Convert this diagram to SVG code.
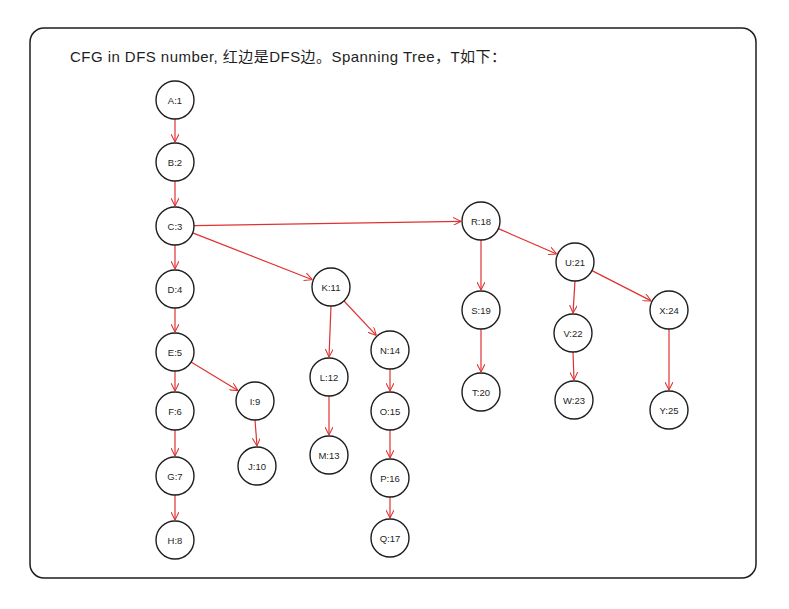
<svg xmlns="http://www.w3.org/2000/svg" width="789" height="609" viewBox="0 0 789 609">
<style>
.n circle{fill:#fff;stroke:#1e1e1e;stroke-width:1.4}
.n text{font-family:"Liberation Sans",sans-serif;font-size:9.5px;fill:#1e1e1e;text-anchor:middle;dominant-baseline:central}
#edges line{stroke:#e03131;stroke-width:1.2;marker-end:url(#ah)}
.t{font-family:"Liberation Sans","Noto Sans CJK SC",sans-serif;font-size:15px;fill:#1e1e1e}
</style>
<defs><marker id="ah" viewBox="0 0 10 10" refX="10" refY="5" markerWidth="8" markerHeight="8" orient="auto" markerUnits="userSpaceOnUse"><path d="M0,0 L10,5 L0,10" fill="none" stroke="#e03131" stroke-width="1.3"/></marker></defs>
<rect width="789" height="609" fill="#fff"/>
<rect x="30" y="28" width="726" height="550" rx="14" fill="none" stroke="#1e1e1e" stroke-width="1.5"/>
<text class="t" x="70" y="62" textLength="436" lengthAdjust="spacing">CFG in DFS number, 红边是DFS边。Spanning Tree，T如下：</text>
<g id="edges">
<line x1="175" y1="119" x2="175" y2="142"/>
<line x1="175" y1="181" x2="175" y2="206"/>
<line x1="175" y1="245" x2="175" y2="269"/>
<line x1="175" y1="308" x2="175" y2="332"/>
<line x1="175" y1="371" x2="175" y2="391"/>
<line x1="175" y1="430" x2="175" y2="456"/>
<line x1="175" y1="495" x2="175" y2="520"/>
<line x1="191" y1="362" x2="238" y2="390.6"/>
<line x1="255" y1="420" x2="257" y2="446"/>
<line x1="192.7" y1="232.9" x2="312.4" y2="279.7"/>
<line x1="194" y1="225.7" x2="461" y2="221.3"/>
<line x1="331" y1="306" x2="329" y2="357"/>
<line x1="329" y1="396" x2="329" y2="435"/>
<line x1="344" y1="301" x2="376.3" y2="335.4"/>
<line x1="390" y1="369" x2="390" y2="391"/>
<line x1="390" y1="430" x2="390" y2="458"/>
<line x1="390" y1="497" x2="390" y2="518"/>
<line x1="481" y1="240" x2="481" y2="290"/>
<line x1="481" y1="329" x2="481" y2="372"/>
<line x1="498.4" y1="228.6" x2="556.7" y2="254"/>
<line x1="575" y1="281" x2="573" y2="313"/>
<line x1="573" y1="352" x2="574" y2="380"/>
<line x1="592" y1="270.6" x2="651.2" y2="300.9"/>
<line x1="669" y1="329" x2="669" y2="390"/>
</g>
<g id="A" class="n"><circle cx="175" cy="100" r="19"/><text x="175" y="100">A:1</text></g>
<g id="B" class="n"><circle cx="175" cy="162" r="19"/><text x="175" y="162">B:2</text></g>
<g id="C" class="n"><circle cx="175" cy="226" r="19"/><text x="175" y="226">C:3</text></g>
<g id="D" class="n"><circle cx="175" cy="289" r="19"/><text x="175" y="289">D:4</text></g>
<g id="E" class="n"><circle cx="175" cy="352" r="19"/><text x="175" y="352">E:5</text></g>
<g id="F" class="n"><circle cx="175" cy="411" r="19"/><text x="175" y="411">F:6</text></g>
<g id="G" class="n"><circle cx="175" cy="476" r="19"/><text x="175" y="476">G:7</text></g>
<g id="H" class="n"><circle cx="175" cy="540" r="19"/><text x="175" y="540">H:8</text></g>
<g id="I" class="n"><circle cx="255" cy="401" r="19"/><text x="255" y="401">I:9</text></g>
<g id="J" class="n"><circle cx="257" cy="466" r="19"/><text x="257" y="466">J:10</text></g>
<g id="K" class="n"><circle cx="331" cy="287" r="19"/><text x="331" y="287">K:11</text></g>
<g id="L" class="n"><circle cx="329" cy="377" r="19"/><text x="329" y="377">L:12</text></g>
<g id="M" class="n"><circle cx="329" cy="455" r="19"/><text x="329" y="455">M:13</text></g>
<g id="N" class="n"><circle cx="390" cy="350" r="19"/><text x="390" y="350">N:14</text></g>
<g id="O" class="n"><circle cx="390" cy="411" r="19"/><text x="390" y="411">O:15</text></g>
<g id="P" class="n"><circle cx="390" cy="478" r="19"/><text x="390" y="478">P:16</text></g>
<g id="Q" class="n"><circle cx="390" cy="538" r="19"/><text x="390" y="538">Q:17</text></g>
<g id="R" class="n"><circle cx="481" cy="221" r="19"/><text x="481" y="221">R:18</text></g>
<g id="S" class="n"><circle cx="481" cy="310" r="19"/><text x="481" y="310">S:19</text></g>
<g id="T" class="n"><circle cx="481" cy="392" r="19"/><text x="481" y="392">T:20</text></g>
<g id="U" class="n"><circle cx="575" cy="262" r="19"/><text x="575" y="262">U:21</text></g>
<g id="V" class="n"><circle cx="573" cy="333" r="19"/><text x="573" y="333">V:22</text></g>
<g id="W" class="n"><circle cx="574" cy="400" r="19"/><text x="574" y="400">W:23</text></g>
<g id="X" class="n"><circle cx="669" cy="310" r="19"/><text x="669" y="310">X:24</text></g>
<g id="Y" class="n"><circle cx="669" cy="410" r="19"/><text x="669" y="410">Y:25</text></g>
</svg>
